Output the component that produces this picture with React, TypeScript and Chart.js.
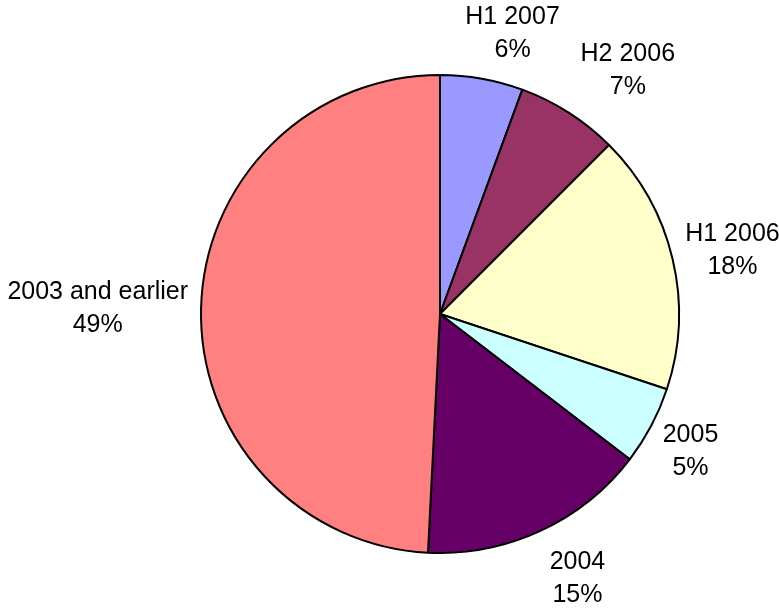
import React, { useEffect, useRef } from 'react';
import { Chart, ArcElement, PieController } from 'chart.js';

Chart.register(ArcElement, PieController);

const categories = ['H1 2007', 'H2 2006', 'H1 2006', '2005', '2004', '2003 and earlier'];
const values = [5.6, 6.9, 17.6, 5.3, 15.4, 49.2];
const colors = ['#9999FF', '#993366', '#FFFFCC', '#CCFFFF', '#660066', '#FF8080'];

const FONT = '25px "Liberation Sans", Arial, sans-serif';

const outLabels = {
  id: 'outLabels',
  afterDatasetsDraw(chart: any) {
    const ctx = chart.ctx as CanvasRenderingContext2D;
    const meta = chart.getDatasetMeta(0);
    const total = values.reduce((a, b) => a + b, 0);
    ctx.save();
    ctx.font = FONT;
    ctx.fillStyle = '#000';
    ctx.textAlign = 'center';
    ctx.textBaseline = 'alphabetic';
    const capH = 18;
    const lineGap = 33;
    const h = capH + lineGap;
    meta.data.forEach((arc: any, i: number) => {
      const p = arc.getProps(['x', 'y', 'startAngle', 'endAngle', 'outerRadius'], true);
      const mid = (p.startAngle + p.endAngle) / 2;
      const sx = Math.cos(mid);
      const sy = Math.sin(mid);
      const l1 = categories[i];
      const l2 = Math.round((values[i] / total) * 100) + '%';
      const w = Math.max(ctx.measureText(l1).width, ctx.measureText(l2).width);
      const side = Math.abs(sx) > Math.abs(sy);
      let cx: number;
      let cy: number;
      if (side) {
        const R = p.outerRadius + 13;
        const ax = p.x + sx * R;
        const ay = p.y + sy * R;
        const t = Math.abs(sy) / Math.abs(sx);
        const f = 0.5 * (1 - Math.min(1, 1.3 * t));
        cx = ax + Math.sign(sx) * (w / 2);
        cy = ay + Math.sign(sy) * (0.5 - f) * h;
      } else {
        const R = p.outerRadius + 22;
        const ax = p.x + sx * R;
        const ay = p.y + sy * R;
        const t = Math.abs(sx) / Math.abs(sy);
        const f = 0.5 * (1 - Math.min(1, 3.2 * t));
        cx = ax + Math.sign(sx) * (0.5 - f) * w;
        cy = ay + Math.sign(sy) * (h / 2);
      }
      const top = cy - h / 2;
      ctx.fillText(l1, cx, top + capH);
      ctx.fillText(l2, cx, top + capH + lineGap);
    });
    ctx.restore();
  },
};

export default function App() {
  const ref = useRef<HTMLCanvasElement | null>(null);
  useEffect(() => {
    document.body.style.margin = '0';
    const canvas = ref.current;
    if (!canvas) return;
    const chart = new Chart(canvas, {
      type: 'pie',
      data: {
        labels: categories,
        datasets: [
          {
            data: values,
            backgroundColor: colors,
            borderColor: '#000000',
            borderWidth: 2,
          },
        ],
      },
      options: {
        responsive: false,
        animation: false,
        devicePixelRatio: 1,
        layout: { padding: { left: 200, right: 99, top: 74, bottom: 57 } },
        plugins: {
          legend: { display: false },
          tooltip: { enabled: false },
        },
      },
      plugins: [outLabels],
    } as any);
    return () => chart.destroy();
  }, []);
  return (
    <div style={{ width: 779, height: 611, background: '#fff' }}>
      <canvas ref={ref} width={779} height={611} style={{ display: 'block' }} />
    </div>
  );
}
